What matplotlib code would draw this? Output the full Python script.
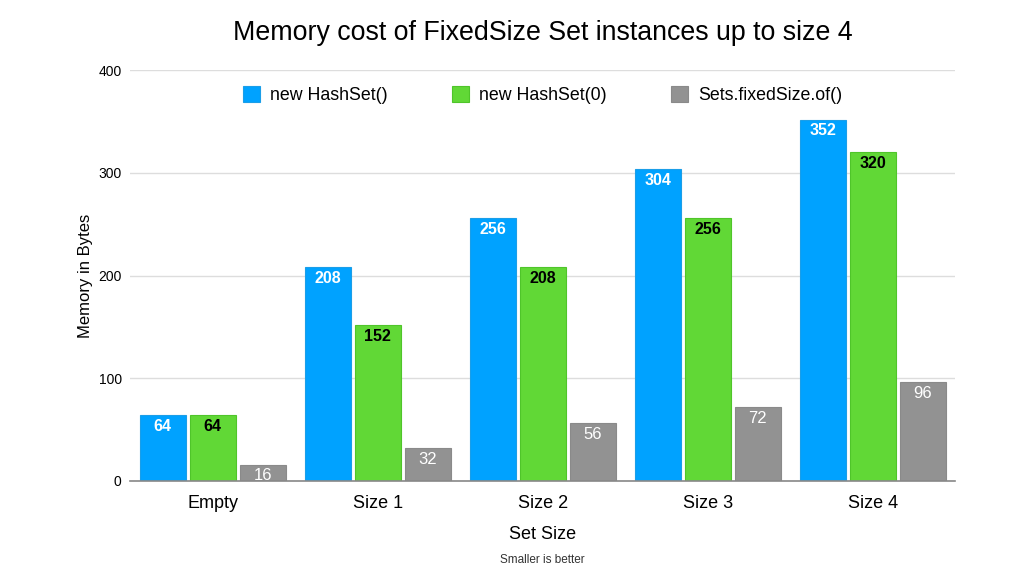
import numpy as np
import matplotlib.pyplot as plt

plt.rcParams['font.family'] = ['Liberation Sans', 'DejaVu Sans']

categories = ["Empty", "Size 1", "Size 2", "Size 3", "Size 4"]
series_names = ["new HashSet()", "new HashSet(0)", "Sets.fixedSize.of()"]
hashset = [64, 208, 256, 304, 352]
hashset0 = [64, 152, 208, 256, 320]
fixed_size = [16, 32, 56, 72, 96]

colors = ["#00A2FF", "#61D836", "#929292"]
edges = ["#1b9ee8", "#4fc52a", "#8a8a8a"]
label_colors = ["white", "black", "white"]
label_weights = ["bold", "bold", "normal"]

fig = plt.figure(figsize=(10.24, 5.76), dpi=100)
ax = fig.add_axes([0.127, 0.165, 0.806, 0.713])

x = np.arange(len(categories))
width = 0.279
step = 0.303
series = [hashset, hashset0, fixed_size]
for i, vals in enumerate(series):
    pos = x + (i - 1) * step
    ax.bar(pos, vals, width, color=colors[i], edgecolor=edges[i], linewidth=0.8,
           label=series_names[i], zorder=3)
    for px, v in zip(pos, vals):
        ax.text(px, v - 11, str(v), ha="center", va="center",
                fontsize=11.5 if i < 2 else 12,
                color=label_colors[i], fontweight=label_weights[i], zorder=4)

ax.set_xlim(-0.5, 4.5)
ax.set_ylim(0, 400)
ax.set_yticks([0, 100, 200, 300, 400])
ax.set_xticks(x)
ax.set_xticklabels(categories, fontsize=13)
ax.tick_params(axis="y", labelsize=10, length=0, pad=6)
ax.tick_params(axis="x", length=0, pad=10)
ax.grid(axis="y", color="#dddddd", linewidth=1, zorder=0)
for s in ["top", "right", "left"]:
    ax.spines[s].set_visible(False)
ax.spines["bottom"].set_color("#888888")
ax.spines["bottom"].set_linewidth(1.2)
ax.spines["bottom"].set_zorder(5)

ax.set_xlabel("Set Size", fontsize=13, labelpad=10)
ax.set_ylabel("Memory in Bytes", fontsize=12, labelpad=4)
fig.suptitle("Memory cost of FixedSize Set instances up to size 4", fontsize=19.3, y=0.965, x=0.53)
fig.text(0.53, 0.022, "Smaller is better", ha="center", fontsize=8.5, color="#333333")

ax.legend(loc="upper center", bbox_to_anchor=(0.5, 1.0), ncol=3, frameon=False,
          fontsize=12.8, handlelength=0.95, handleheight=0.95, columnspacing=3.6,
          handletextpad=0.6)

fig.savefig("out.png", dpi=100)
